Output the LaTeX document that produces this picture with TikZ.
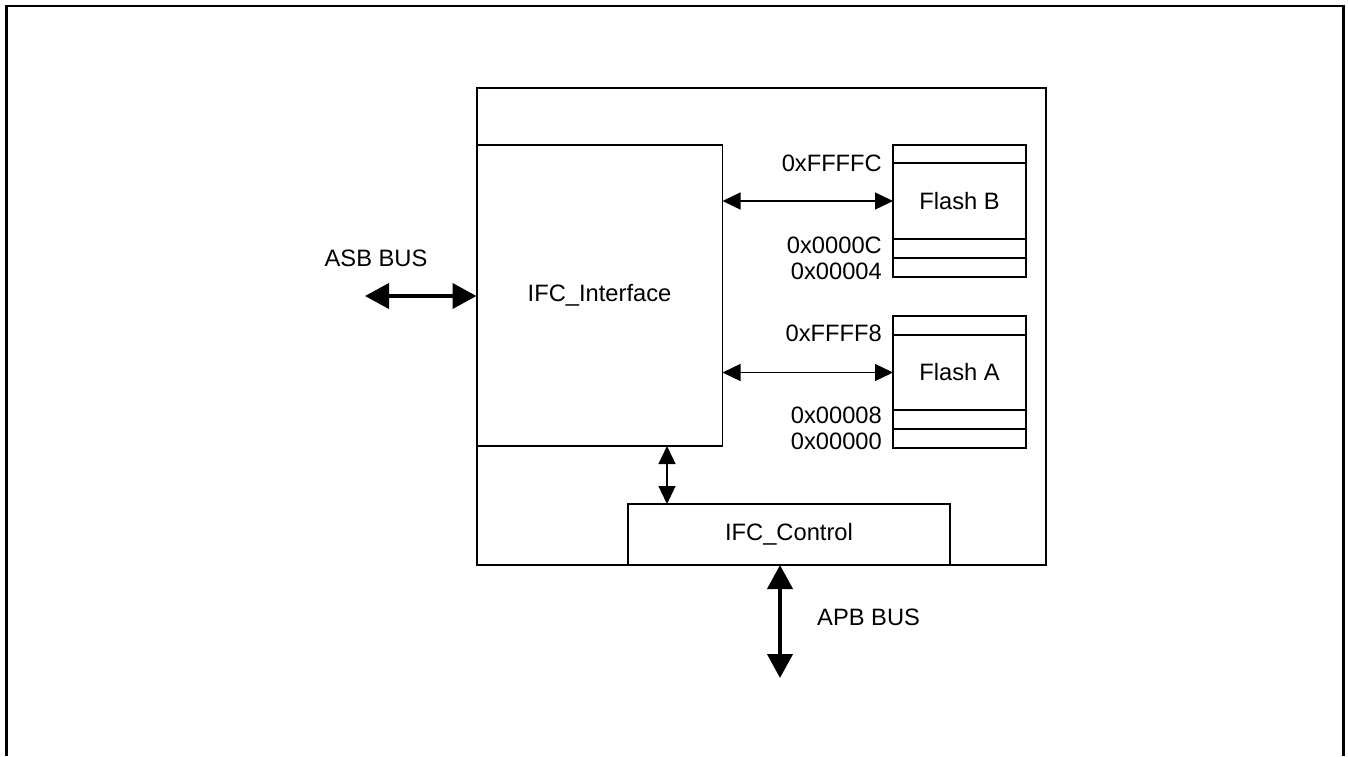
\documentclass[tikz,border=0pt]{standalone}
\usepackage{fontspec}
\setmainfont{Liberation Sans}
\usetikzlibrary{positioning, arrows.meta}

\begin{document}
\begin{tikzpicture}[x=1pt, y=-1pt,
  blk/.style={draw, line width=1.3pt, inner sep=0pt, outer sep=0pt, align=center,
              font=\fontsize{23.7}{28}\selectfont},
  cell/.style={blk, minimum width=133pt},
  addr/.style={font=\fontsize{23.7}{28}\selectfont, inner sep=0pt, anchor=east},
  lbl/.style={font=\fontsize{23.7}{28}\selectfont, inner sep=0pt},
  dbl/.style={{Triangle[length=18pt, width=17pt]}-{Triangle[length=18pt, width=17pt]}, line width=1.3pt},
  bus/.style={{Triangle[length=24pt, width=25pt]}-{Triangle[length=24pt, width=25pt]}, line width=4pt},
]
\useasboundingbox (0,0) rectangle (1348,756);

% Page frame (open at the bottom)
\draw[line width=2.5pt] (6.5,756) -- (6.5,6) -- (1343.5,6) -- (1343.5,756);

% Main block
\node[blk, minimum width=569pt, minimum height=477pt] (main) at (761.5,326.5) {};

% Interface and control
\node[blk, minimum width=246pt, minimum height=301pt] (ifc) at (599.5,295.5) {IFC\_Interface};
\node[blk, minimum width=322pt, minimum height=61pt] (ctrl) at (789,534.5) {IFC\_Control};

% Flash B
\node[cell, minimum height=18pt] (fbtop) at (959.5,154) {};
\node[cell, minimum height=76pt, below=0pt of fbtop] (flashB) {Flash B};
\node[cell, minimum height=19pt, below=0pt of flashB] (fbmid) {};
\node[cell, minimum height=19pt, below=0pt of fbmid] (fbbot) {};

% Flash A
\node[cell, minimum height=19pt] (fatop) at (959.5,325.5) {};
\node[cell, minimum height=75pt, below=0pt of fatop] (flashA) {Flash A};
\node[cell, minimum height=19pt, below=0pt of flashA] (famid) {};
\node[cell, minimum height=19pt, below=0pt of famid] (fabot) {};

% Addresses
\node[addr, left=11pt of fbtop.south west] (adrB1) {0xFFFFC};
\node[addr, left=11pt of fbmid.west, yshift=3.5pt] (adrB2) {0x0000C};
\node[addr, left=11pt of fbbot.west, yshift=-3.5pt] (adrB3) {0x00004};
\node[addr, left=11pt of fatop.south west, yshift=2pt] (adrA1) {0xFFFF8};
\node[addr, left=11pt of famid.west, yshift=4.5pt] (adrA2) {0x00008};
\node[addr, left=11pt of fabot.west, yshift=-2.5pt] (adrA3) {0x00000};

% Internal connections
\draw[dbl] (flashB.west -| ifc.east) -- (flashB.west);
\draw[dbl] (flashA.west -| ifc.east) -- (flashA.west);
\draw[dbl] ([xshift=39pt]ctrl.north west |- ifc.south) -- ([xshift=39pt]ctrl.north west);

% Buses
\coordinate (asb) at (365,296);
\coordinate (apb) at (780,678);
\draw[bus] (asb) -- (asb -| ifc.west);
\draw[bus] ([xshift=-9pt]ctrl.south) -- (apb);
\node[lbl] (asbl) at (376,258) {ASB BUS};
\node[lbl, anchor=west] (apbl) at (817,617) {APB BUS};

\end{tikzpicture}
\end{document}
